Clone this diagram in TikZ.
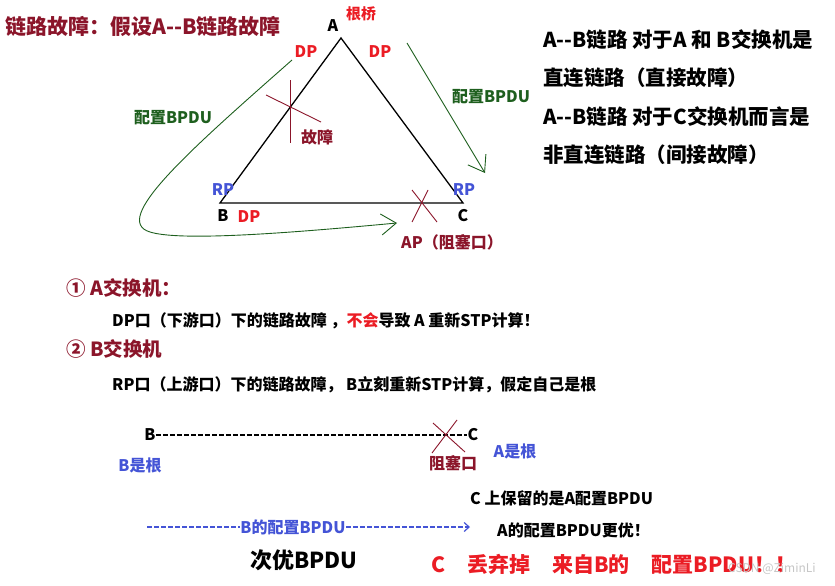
\documentclass[tikz,border=0pt]{standalone}
\usepackage{fontspec}
\setmainfont{Noto Sans CJK SC}
\usetikzlibrary{arrows.meta}
\definecolor{faultred}{RGB}{139,21,42}
\definecolor{portred}{RGB}{235,28,36}
\definecolor{portblue}{RGB}{68,84,214}
\definecolor{bpdugreen}{RGB}{30,95,30}
\newcommand{\fs}[1]{\bfseries\fontsize{#1}{#1}\selectfont}
\begin{document}
\begin{tikzpicture}[x=1pt,y=-1pt,
  lbl/.style={font=\fs{16}, inner sep=0pt},
  big/.style={font=\fs{20.5}, inner sep=0pt, anchor=west},
  link/.style={line width=1.3pt},
  cross/.style={faultred, line width=0.9pt},
  flow/.style={bpdugreen, line width=0.9pt, -{Straight Barb[length=15pt,width=21pt]}},
  dashlink/.style={line width=1.4pt, dash pattern=on 5pt off 2pt}]
\useasboundingbox (0,0) rectangle (835,586);
% title
\node[font=\fs{21}, inner sep=0pt, anchor=west, faultred] (title) at (5,26) {链路故障：假设A-{}-B链路故障};
% triangle
\coordinate (A) at (341,38);
\coordinate (B) at (220,203);
\coordinate (C) at (463,203);
\draw[link] (A) -- (B) -- (C) -- cycle;
\node[lbl] (Aname) at (333,26) {A};
\node[lbl, portred, font=\fs{15}] (root) at (361,14) {根桥};
\node[lbl] (Bname) at (223,216) {B};
\node[lbl] (Cname) at (463,216) {C};
\node[lbl, portred] (dpAB) at (306,52) {DP};
\node[lbl, portred] (dpAC) at (380,52) {DP};
\node[lbl, portblue] (rpB) at (223,190) {RP};
\node[lbl, portblue] (rpC) at (464,190) {RP};
\node[lbl, portred] (dpBC) at (249,217) {DP};
% fault on A--B
\coordinate (f1) at (266,95);
\coordinate (f2) at (321,122);
\coordinate (f3) at (290,80);
\coordinate (f4) at (290,143);
\draw[cross] (f1) -- (f2);
\draw[cross] (f3) -- (f4);
\node[lbl, faultred] (fault) at (317,137) {故障};
% blocked port at C
\coordinate (ap1) at (412,190);
\coordinate (ap2) at (437,222);
\coordinate (ap3) at (428,190);
\coordinate (ap4) at (412,222);
\draw[cross] (ap1) -- (ap2);
\draw[cross] (ap3) -- (ap4);
\node[lbl, faultred] (ap) at (452,242) {AP（阻塞口）};
% BPDU flows
\coordinate (flowLstart) at (292,60);
\coordinate (flowLend) at (397,223);
\draw[flow] (flowLstart) .. controls (190,150) and (110,220) .. (150,232)
  .. controls (182,242) and (300,232) .. (flowLend);
\node[lbl, bpdugreen] (cfgLeft) at (173,118) {配置BPDU};
\coordinate (flowRstart) at (407,43);
\coordinate (flowRend) at (485,173);
\draw[flow] (flowRstart) -- (flowRend);
\node[lbl, bpdugreen] (cfgRight) at (491,97) {配置BPDU};
% right notes
\node[big] (note1) at (543,40) {A-{}-B链路 对于A 和 B交换机是};
\node[big] (note2) at (543,78) {直连链路（直接故障）};
\node[big] (note3) at (543,117) {A-{}-B链路 对于C交换机而言是};
\node[big] (note4) at (543,155) {非直连链路（间接故障）};
% cases
\node[font=\fs{19.5}, inner sep=0pt, anchor=west, faultred] (caseA) at (66,288) {① A交换机：};
\node[lbl, anchor=west] (caseAtxt) at (112,321) {DP口（下游口）下的链路故障 ，\textcolor{portred}{不会}导致 A 重新STP计算！};
\node[font=\fs{19.5}, inner sep=0pt, anchor=west, faultred] (caseB) at (66,349) {② B交换机};
\node[lbl, anchor=west] (caseBtxt) at (112,385) {RP口（上游口）下的链路故障， B立刻重新STP计算，假定自己是根};
% B --- C
\node[lbl] (Bend) at (150,435) {B};
\node[lbl] (Cend) at (473,435) {C};
\draw[dashlink] (Bend.east) -- (Cend.west);
\coordinate (x1) at (433,423);
\coordinate (x2) at (465,452);
\coordinate (x3) at (457,420);
\coordinate (x4) at (432,453);
\draw[cross] (x1) -- (x2);
\draw[cross] (x3) -- (x4);
\node[lbl, faultred] (block) at (453,463) {阻塞口};
\node[lbl, portblue] (rootA) at (515,451) {A是根};
\node[lbl, portblue] (rootB) at (140,465) {B是根};
% bottom
\node[lbl, anchor=west] (keep) at (470,498) {C 上保留的是A配置BPDU};
\node[lbl, anchor=west] (better) at (497,530) {A的配置BPDU更优！};
\coordinate (bpduStart) at (147,527);
\coordinate (bpduEnd) at (470,527);
\node[lbl, portblue] (bpduB) at (293,527) {B的配置BPDU};
\draw[dashlink, portblue, line width=1.2pt] (bpduStart) -- (bpduB.west);
\draw[dashlink, portblue, line width=1.2pt, -{Straight Barb[length=5pt,width=9pt]}] (bpduB.east) -- (bpduEnd);
\node[font=\fs{22}, inner sep=0pt] (worse) at (304,560) {次优BPDU};
\node[font=\fs{21}, inner sep=0pt, anchor=west, portred] (drop) at (431,564) {C\hspace{22pt}丢弃掉\hspace{22pt}来自B的\hspace{22pt}配置BPDU！！};
\node[font=\fontsize{12}{12}\selectfont, inner sep=0pt, gray!45] (mark) at (772,569) {CSDN @ZiminLi};
\end{tikzpicture}
\end{document}
